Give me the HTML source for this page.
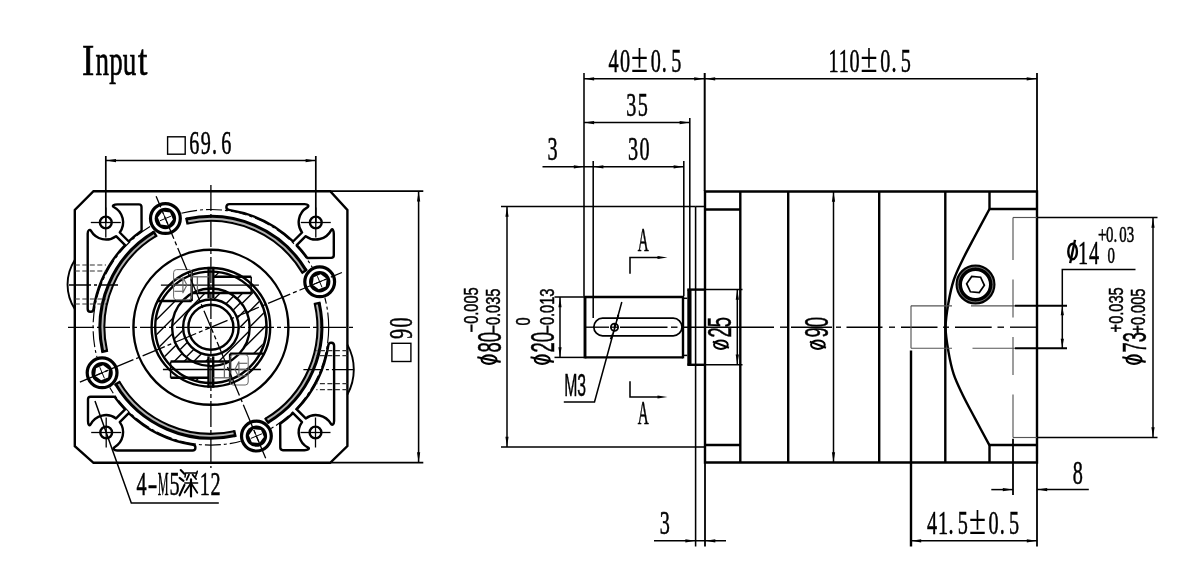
<!DOCTYPE html>
<html lang="en">
<head>
<meta charset="utf-8">
<title>Input flange drawing</title>
<style>
html,body{margin:0;padding:0;background:#fff;}
body{width:1200px;height:574px;overflow:hidden;font-family:"Liberation Serif",serif;}
svg{display:block;filter:grayscale(1);}
text{white-space:pre;}
</style>
</head>
<body>
<svg width="1200" height="574" viewBox="0 0 1200 574">
<rect x="0" y="0" width="1200" height="574" fill="#fff"/>
<path d="M705,191.5 H1037 V462.5 H705 Z" stroke="#000" stroke-width="2.4" fill="none" stroke-linejoin="miter" />
<line x1="740.3" y1="191.5" x2="740.3" y2="462.5" stroke="#000" stroke-width="2.4" stroke-linecap="butt"/>
<line x1="788.2" y1="191.5" x2="788.2" y2="462.5" stroke="#000" stroke-width="2.4" stroke-linecap="butt"/>
<line x1="879.2" y1="191.5" x2="879.2" y2="462.5" stroke="#000" stroke-width="2.4" stroke-linecap="butt"/>
<line x1="945.3" y1="191.5" x2="945.3" y2="462.5" stroke="#000" stroke-width="2.4" stroke-linecap="butt"/>
<line x1="705" y1="209.5" x2="740.3" y2="209.5" stroke="#000" stroke-width="2.4" stroke-linecap="butt"/>
<line x1="705" y1="445" x2="740.3" y2="445" stroke="#000" stroke-width="2.4" stroke-linecap="butt"/>
<path d="M989.5,191.5 V209 H1037" stroke="#000" stroke-width="2.4" fill="none" stroke-linejoin="miter" />
<path d="M989.5,462.5 V445 H1037" stroke="#000" stroke-width="2.4" fill="none" stroke-linejoin="miter" />
<path d="M989.5,209 C987.08,213.5 979.5,227.5 975,236 C970.5,244.5 966.04,252.67 962.5,260 C958.96,267.33 956.08,272.92 953.75,280 C951.42,287.08 949.86,294.63 948.5,302.5 C947.14,310.37 945.6,318.97 945.6,327.2 C945.6,335.43 947.14,344.03 948.5,351.9 C949.86,359.77 951.42,367.32 953.75,374.4 C956.08,381.48 958.96,387.07 962.5,394.4 C966.04,401.73 970.5,409.9 975,418.4 C979.5,426.9 987.08,440.9 989.5,445.4" stroke="#000" stroke-width="2.4" fill="none" stroke-linejoin="round" />
<line x1="695.6" y1="206.5" x2="695.6" y2="447" stroke="#000" stroke-width="1.55" stroke-linecap="butt"/>
<line x1="695.6" y1="206.5" x2="705" y2="206.5" stroke="#000" stroke-width="1.55" stroke-linecap="butt"/>
<line x1="695.6" y1="447" x2="705" y2="447" stroke="#000" stroke-width="1.55" stroke-linecap="butt"/>
<rect x="687.3" y="289.6" width="4.2" height="75.2" fill="#000"/>
<line x1="687.3" y1="289.6" x2="705" y2="289.6" stroke="#000" stroke-width="2.4" stroke-linecap="butt"/>
<line x1="687.3" y1="364.8" x2="705" y2="364.8" stroke="#000" stroke-width="2.4" stroke-linecap="butt"/>
<line x1="705" y1="289.6" x2="742.5" y2="289.6" stroke="#000" stroke-width="1.5" stroke-linecap="butt"/>
<line x1="705" y1="364.8" x2="742.5" y2="364.8" stroke="#000" stroke-width="1.5" stroke-linecap="butt"/>
<line x1="584.6" y1="297" x2="683" y2="297" stroke="#000" stroke-width="2.4" stroke-linecap="butt"/>
<line x1="584.6" y1="357.4" x2="683" y2="357.4" stroke="#000" stroke-width="2.4" stroke-linecap="butt"/>
<line x1="585" y1="296" x2="585" y2="358.4" stroke="#000" stroke-width="2.9" stroke-linecap="butt"/>
<line x1="683" y1="296" x2="683" y2="358.4" stroke="#000" stroke-width="2.4" stroke-linecap="butt"/>
<line x1="683" y1="298.3" x2="687.3" y2="298.3" stroke="#000" stroke-width="1.5" stroke-linecap="butt"/>
<line x1="683" y1="355.4" x2="687.3" y2="355.4" stroke="#000" stroke-width="1.5" stroke-linecap="butt"/>
<rect x="593.8" y="318.2" width="88.2" height="17.6" rx="8.8" ry="8.8" fill="none" stroke="#000" stroke-width="1.7"/>
<circle cx="614.5" cy="327.2" r="3.6" stroke="#000" stroke-width="1.8" fill="none"/>
<line x1="610.5" y1="327.2" x2="618.5" y2="327.2" stroke="#000" stroke-width="1.3" stroke-linecap="butt"/>
<line x1="614.5" y1="323.2" x2="614.5" y2="331.2" stroke="#000" stroke-width="1.3" stroke-linecap="butt"/>
<path d="M621.8,302 L594.5,402 H563.8" stroke="#000" stroke-width="1.5" fill="none" stroke-linejoin="miter" />
<polygon points="616.2,322.8 617.25,314.79 619.37,315.37" fill="#000"/>
<polygon points="612.9,331.6 611.85,339.61 609.73,339.03" fill="#000"/>
<line x1="585" y1="327.2" x2="609" y2="327.2" stroke="#000" stroke-width="1.35" stroke-linecap="butt"/>
<line x1="620" y1="327.2" x2="667.5" y2="327.2" stroke="#000" stroke-width="1.35" stroke-linecap="butt"/>
<line x1="671" y1="327.2" x2="677.5" y2="327.2" stroke="#000" stroke-width="1.35" stroke-linecap="butt"/>
<line x1="682.5" y1="327.2" x2="774" y2="327.2" stroke="#000" stroke-width="1.35" stroke-linecap="butt"/>
<line x1="780" y1="327.2" x2="788" y2="327.2" stroke="#000" stroke-width="1.35" stroke-linecap="butt"/>
<line x1="791" y1="327.2" x2="832" y2="327.2" stroke="#000" stroke-width="1.35" stroke-linecap="butt"/>
<line x1="836" y1="327.2" x2="841" y2="327.2" stroke="#000" stroke-width="1.35" stroke-linecap="butt"/>
<line x1="846.5" y1="327.2" x2="882.5" y2="327.2" stroke="#000" stroke-width="1.35" stroke-linecap="butt"/>
<line x1="889" y1="327.2" x2="895" y2="327.2" stroke="#000" stroke-width="1.35" stroke-linecap="butt"/>
<line x1="901" y1="327.2" x2="937.5" y2="327.2" stroke="#000" stroke-width="1.35" stroke-linecap="butt"/>
<line x1="943" y1="327.2" x2="949" y2="327.2" stroke="#000" stroke-width="1.35" stroke-linecap="butt"/>
<line x1="955" y1="327.2" x2="991.7" y2="327.2" stroke="#000" stroke-width="1.35" stroke-linecap="butt"/>
<line x1="997.5" y1="327.2" x2="1004" y2="327.2" stroke="#000" stroke-width="1.35" stroke-linecap="butt"/>
<line x1="1010" y1="327.2" x2="1037" y2="327.2" stroke="#000" stroke-width="1.35" stroke-linecap="butt"/>
<line x1="911" y1="305.8" x2="952" y2="305.8" stroke="#555" stroke-width="1.15" stroke-linecap="butt"/>
<line x1="971" y1="305.8" x2="1015" y2="305.8" stroke="#555" stroke-width="1.15" stroke-linecap="butt"/>
<line x1="911" y1="348.2" x2="952" y2="348.2" stroke="#555" stroke-width="1.15" stroke-linecap="butt"/>
<line x1="972.5" y1="348.2" x2="1015" y2="348.2" stroke="#555" stroke-width="1.15" stroke-linecap="butt"/>
<line x1="911" y1="305.8" x2="911" y2="348.2" stroke="#555" stroke-width="1.15" stroke-linecap="butt"/>
<line x1="1013" y1="217.5" x2="1037" y2="217.5" stroke="#555" stroke-width="1.15" stroke-linecap="butt"/>
<line x1="1013" y1="437.5" x2="1037" y2="437.5" stroke="#555" stroke-width="1.15" stroke-linecap="butt"/>
<line x1="1013" y1="217.5" x2="1013" y2="260" stroke="#555" stroke-width="1.15" stroke-linecap="butt"/>
<line x1="1013" y1="279.5" x2="1013" y2="317.5" stroke="#555" stroke-width="1.15" stroke-linecap="butt"/>
<line x1="1013" y1="337" x2="1013" y2="375" stroke="#555" stroke-width="1.15" stroke-linecap="butt"/>
<line x1="1013" y1="394.5" x2="1013" y2="437.5" stroke="#555" stroke-width="1.15" stroke-linecap="butt"/>
<circle cx="975.5" cy="284.5" r="16.75" stroke="#000" stroke-width="6.5" fill="none"/>
<circle cx="975.5" cy="284.5" r="17.45" stroke="#aaa" stroke-width="0.7" fill="none"/>
<polygon points="984.37,285.28 979.26,292.57 970.4,291.79 966.63,283.72 971.74,276.43 980.6,277.21" fill="none" stroke="#000" stroke-width="1.7"/>
<line x1="584" y1="73" x2="584" y2="296" stroke="#000" stroke-width="1.55" stroke-linecap="butt"/>
<line x1="704.7" y1="73" x2="704.7" y2="191" stroke="#000" stroke-width="2.0" stroke-linecap="butt"/>
<line x1="1037" y1="73" x2="1037" y2="191" stroke="#000" stroke-width="1.8" stroke-linecap="butt"/>
<line x1="584" y1="78.8" x2="1037" y2="78.8" stroke="#000" stroke-width="1.5" stroke-linecap="butt"/>
<polygon points="584.3,78.8 594.1,77.2 594.1,80.4" fill="#000"/>
<polygon points="704,78.8 694.2,80.4 694.2,77.2" fill="#000"/>
<polygon points="705.4,78.8 715.2,77.2 715.2,80.4" fill="#000"/>
<polygon points="1036.5,78.8 1026.7,80.4 1026.7,77.2" fill="#000"/>
<g font-family="'Liberation Serif', serif" font-size="33.7" font-weight="normal" fill="#000" stroke="#000" stroke-width="0.55" text-anchor="middle">
<text transform="translate(613.45 72.3) scale(0.6 1)">4</text>
<text transform="translate(624.95 72.3) scale(0.6 1)">0</text>
<text transform="translate(639.5 72.3) scale(0.92 1.27)" stroke-width="0.1">±</text>
<text transform="translate(655.75 72.3) scale(0.6 1)">0</text>
<text transform="translate(664.3 72.3) scale(0.6 1)">.</text>
<text transform="translate(676.25 72.3) scale(0.6 1)">5</text>
</g>
<g font-family="'Liberation Serif', serif" font-size="33.7" font-weight="normal" fill="#000" stroke="#000" stroke-width="0.55" text-anchor="middle">
<text transform="translate(833.5 72.3) scale(0.6 1)">1</text>
<text transform="translate(843.7 72.3) scale(0.6 1)">1</text>
<text transform="translate(854.55 72.3) scale(0.6 1)">0</text>
<text transform="translate(869.1 72.3) scale(0.92 1.27)" stroke-width="0.1">±</text>
<text transform="translate(885.35 72.3) scale(0.6 1)">0</text>
<text transform="translate(893.9 72.3) scale(0.6 1)">.</text>
<text transform="translate(905.85 72.3) scale(0.6 1)">5</text>
</g>
<line x1="689.8" y1="118" x2="689.8" y2="289" stroke="#000" stroke-width="1.55" stroke-linecap="butt"/>
<line x1="584" y1="122.6" x2="689.8" y2="122.6" stroke="#000" stroke-width="1.5" stroke-linecap="butt"/>
<polygon points="584.3,122.6 594.1,121 594.1,124.2" fill="#000"/>
<polygon points="689.4,122.6 679.6,124.2 679.6,121" fill="#000"/>
<g font-family="'Liberation Serif', serif" font-size="33.7" font-weight="normal" fill="#000" stroke="#000" stroke-width="0.55" text-anchor="middle">
<text transform="translate(631.35 116.2) scale(0.6 1)">3</text>
<text transform="translate(642.85 116.2) scale(0.6 1)">5</text>
</g>
<line x1="593.2" y1="161" x2="593.2" y2="318" stroke="#000" stroke-width="1.55" stroke-linecap="butt"/>
<line x1="683.8" y1="161" x2="683.8" y2="296" stroke="#000" stroke-width="1.55" stroke-linecap="butt"/>
<line x1="542.5" y1="166.8" x2="683.8" y2="166.8" stroke="#000" stroke-width="1.5" stroke-linecap="butt"/>
<polygon points="583.6,166.8 573.8,168.4 573.8,165.2" fill="#000"/>
<polygon points="593.6,166.8 603.4,165.2 603.4,168.4" fill="#000"/>
<polygon points="683.4,166.8 673.6,168.4 673.6,165.2" fill="#000"/>
<g font-family="'Liberation Serif', serif" font-size="33.7" font-weight="normal" fill="#000" stroke="#000" stroke-width="0.55" text-anchor="middle">
<text transform="translate(633.05 160.2) scale(0.6 1)">3</text>
<text transform="translate(644.55 160.2) scale(0.6 1)">0</text>
</g>
<g font-family="'Liberation Serif', serif" font-size="33.7" font-weight="normal" fill="#000" stroke="#000" stroke-width="0.55" text-anchor="middle">
<text transform="translate(552.65 160.2) scale(0.6 1)">3</text>
</g>
<line x1="501" y1="206.5" x2="695.6" y2="206.5" stroke="#000" stroke-width="1.5" stroke-linecap="butt"/>
<line x1="501" y1="447" x2="695.6" y2="447" stroke="#000" stroke-width="1.5" stroke-linecap="butt"/>
<line x1="507" y1="206.5" x2="507" y2="447" stroke="#000" stroke-width="1.5" stroke-linecap="butt"/>
<polygon points="507,206.9 508.6,216.7 505.4,216.7" fill="#000"/>
<polygon points="507,446.6 505.4,436.8 508.6,436.8" fill="#000"/>
<line x1="554.5" y1="297" x2="584" y2="297" stroke="#000" stroke-width="1.5" stroke-linecap="butt"/>
<line x1="554.5" y1="357.4" x2="584" y2="357.4" stroke="#000" stroke-width="1.5" stroke-linecap="butt"/>
<line x1="560" y1="297" x2="560" y2="357.4" stroke="#000" stroke-width="1.5" stroke-linecap="butt"/>
<polygon points="560,297.4 561.6,307.2 558.4,307.2" fill="#000"/>
<polygon points="560,357 558.4,347.2 561.6,347.2" fill="#000"/>
<line x1="737.3" y1="289.6" x2="737.3" y2="364.8" stroke="#000" stroke-width="1.5" stroke-linecap="butt"/>
<polygon points="737.3,290 738.9,299.8 735.7,299.8" fill="#000"/>
<polygon points="737.3,364.4 735.7,354.6 738.9,354.6" fill="#000"/>
<line x1="833.5" y1="191.5" x2="833.5" y2="462.5" stroke="#000" stroke-width="1.5" stroke-linecap="butt"/>
<polygon points="833.5,192 835.1,201.8 831.9,201.8" fill="#000"/>
<polygon points="833.5,462 831.9,452.2 835.1,452.2" fill="#000"/>
<line x1="695.6" y1="447" x2="695.6" y2="546.5" stroke="#000" stroke-width="1.55" stroke-linecap="butt"/>
<line x1="705" y1="462.5" x2="705" y2="546.5" stroke="#000" stroke-width="1.8" stroke-linecap="butt"/>
<line x1="654" y1="540.8" x2="726" y2="540.8" stroke="#000" stroke-width="1.5" stroke-linecap="butt"/>
<polygon points="695.2,540.8 685.4,542.4 685.4,539.2" fill="#000"/>
<polygon points="705.5,540.8 715.3,539.2 715.3,542.4" fill="#000"/>
<g font-family="'Liberation Serif', serif" font-size="33.7" font-weight="normal" fill="#000" stroke="#000" stroke-width="0.55" text-anchor="middle">
<text transform="translate(664.75 533.6) scale(0.6 1)">3</text>
</g>
<line x1="1037" y1="217.5" x2="1157.5" y2="217.5" stroke="#000" stroke-width="1.5" stroke-linecap="butt"/>
<line x1="1037" y1="437.5" x2="1157.5" y2="437.5" stroke="#000" stroke-width="1.5" stroke-linecap="butt"/>
<line x1="1153" y1="217.5" x2="1153" y2="437.5" stroke="#000" stroke-width="1.5" stroke-linecap="butt"/>
<polygon points="1153,218 1154.6,227.8 1151.4,227.8" fill="#000"/>
<polygon points="1153,437 1151.4,427.2 1154.6,427.2" fill="#000"/>
<line x1="1015" y1="305.8" x2="1067" y2="305.8" stroke="#000" stroke-width="1.9" stroke-linecap="butt"/>
<line x1="1015" y1="348.2" x2="1067" y2="348.2" stroke="#000" stroke-width="1.9" stroke-linecap="butt"/>
<path d="M1135.5,269.5 H1062.3 V348.2" stroke="#000" stroke-width="1.5" fill="none" stroke-linejoin="miter" />
<polygon points="1062.3,306.2 1063.9,315.2 1060.7,315.2" fill="#000"/>
<polygon points="1062.3,347.8 1060.7,338.8 1063.9,338.8" fill="#000"/>
<line x1="1013" y1="438.8" x2="1013" y2="495" stroke="#000" stroke-width="1.8" stroke-linecap="butt"/>
<line x1="1037" y1="462.5" x2="1037" y2="546.5" stroke="#000" stroke-width="1.8" stroke-linecap="butt"/>
<line x1="991.3" y1="489.6" x2="1013" y2="489.6" stroke="#000" stroke-width="1.5" stroke-linecap="butt"/>
<line x1="1037" y1="489.6" x2="1088.8" y2="489.6" stroke="#000" stroke-width="1.5" stroke-linecap="butt"/>
<polygon points="1012.6,489.6 1002.8,491.2 1002.8,488" fill="#000"/>
<polygon points="1037.4,489.6 1047.2,488 1047.2,491.2" fill="#000"/>
<g font-family="'Liberation Serif', serif" font-size="33.7" font-weight="normal" fill="#000" stroke="#000" stroke-width="0.55" text-anchor="middle">
<text transform="translate(1077.75 483.6) scale(0.6 1)">8</text>
</g>
<line x1="911" y1="350.5" x2="911" y2="546.5" stroke="#000" stroke-width="2.4" stroke-linecap="butt"/>
<line x1="911" y1="540.8" x2="1037" y2="540.8" stroke="#000" stroke-width="1.5" stroke-linecap="butt"/>
<polygon points="911.4,540.8 921.2,539.2 921.2,542.4" fill="#000"/>
<polygon points="1036.6,540.8 1026.8,542.4 1026.8,539.2" fill="#000"/>
<g font-family="'Liberation Serif', serif" font-size="33.7" font-weight="normal" fill="#000" stroke="#000" stroke-width="0.55" text-anchor="middle">
<text transform="translate(932.15 533.6) scale(0.6 1)">4</text>
<text transform="translate(943 533.6) scale(0.6 1)">1</text>
<text transform="translate(950.9 533.6) scale(0.6 1)">.</text>
<text transform="translate(962.85 533.6) scale(0.6 1)">5</text>
<text transform="translate(977.4 533.6) scale(0.92 1.27)" stroke-width="0.1">±</text>
<text transform="translate(993.65 533.6) scale(0.6 1)">0</text>
<text transform="translate(1002.2 533.6) scale(0.6 1)">.</text>
<text transform="translate(1014.15 533.6) scale(0.6 1)">5</text>
</g>
<path d="M630,273.8 V257.5 H660" stroke="#000" stroke-width="1.55" fill="none" stroke-linejoin="miter" />
<polygon points="667.5,257.5 657.5,258.9 657.5,256.1" fill="#000"/>
<path d="M630,381.2 V397 H660" stroke="#000" stroke-width="1.55" fill="none" stroke-linejoin="miter" />
<polygon points="667.5,397 657.5,398.4 657.5,395.6" fill="#000"/>
<g font-family="'Liberation Serif', serif" font-size="33.7" font-weight="normal" fill="#000" stroke="#000" stroke-width="0.55" text-anchor="middle">
<text transform="translate(643.35 251.2) scale(0.45 1)">A</text>
</g>
<g font-family="'Liberation Serif', serif" font-size="33.7" font-weight="normal" fill="#000" stroke="#000" stroke-width="0.55" text-anchor="middle">
<text transform="translate(643.35 423.8) scale(0.45 1)">A</text>
</g>
<text transform="translate(564.2 395.5) rotate(0) scale(0.5 1)" font-family="'Liberation Sans', sans-serif" font-size="31.5" font-weight="normal" fill="#000" stroke="#000" stroke-width="0.5" text-anchor="start">M3</text>
<g transform="translate(720.9 344.7) rotate(-90)" fill="none" stroke="#000" stroke-width="2.0">
<ellipse cx="0" cy="0" rx="4.25" ry="6.85"/>
<line x1="-3.06" y1="8.08" x2="3.06" y2="-8.08"/>
</g>
<text transform="translate(731.3 337.6) rotate(-90) scale(0.55 1)" font-family="'Liberation Sans', sans-serif" font-size="33.5" font-weight="normal" fill="#000" stroke="#000" stroke-width="0.5" text-anchor="start">25</text>
<g transform="translate(817.9 344.7) rotate(-90)" fill="none" stroke="#000" stroke-width="2.0">
<ellipse cx="0" cy="0" rx="4.25" ry="6.85"/>
<line x1="-3.06" y1="8.08" x2="3.06" y2="-8.08"/>
</g>
<text transform="translate(828.3 337.6) rotate(-90) scale(0.55 1)" font-family="'Liberation Sans', sans-serif" font-size="33.5" font-weight="normal" fill="#000" stroke="#000" stroke-width="0.5" text-anchor="start">90</text>
<g transform="translate(489 359.6) rotate(-90)" fill="none" stroke="#000" stroke-width="2.1">
<ellipse cx="0" cy="0" rx="4.25" ry="7.5"/>
<line x1="-2.29" y1="11.7" x2="2.29" y2="-11.7"/>
</g>
<text transform="translate(500.6 352.6) rotate(-90) scale(0.55 1)" font-family="'Liberation Sans', sans-serif" font-size="33.5" font-weight="normal" fill="#000" stroke="#000" stroke-width="0.5" text-anchor="start">80</text>
<text transform="translate(500.3 333.6) rotate(-90) scale(0.75 1)" font-family="'Liberation Sans', sans-serif" font-size="19.5" font-weight="normal" fill="#000" stroke="#000" stroke-width="0.5" text-anchor="start">−0.035</text>
<text transform="translate(477.8 332.4) rotate(-90) scale(0.75 1)" font-family="'Liberation Sans', sans-serif" font-size="19.5" font-weight="normal" fill="#000" stroke="#000" stroke-width="0.5" text-anchor="start">−0.005</text>
<g transform="translate(542.2 359.6) rotate(-90)" fill="none" stroke="#000" stroke-width="2.1">
<ellipse cx="0" cy="0" rx="4.25" ry="7.5"/>
<line x1="-2.29" y1="11.7" x2="2.29" y2="-11.7"/>
</g>
<text transform="translate(553.8 352.6) rotate(-90) scale(0.55 1)" font-family="'Liberation Sans', sans-serif" font-size="33.5" font-weight="normal" fill="#000" stroke="#000" stroke-width="0.5" text-anchor="start">20</text>
<text transform="translate(553.5 333.6) rotate(-90) scale(0.75 1)" font-family="'Liberation Sans', sans-serif" font-size="19.5" font-weight="normal" fill="#000" stroke="#000" stroke-width="0.5" text-anchor="start">−0.013</text>
<text transform="translate(529.8 325.4) rotate(-90) scale(0.75 1)" font-family="'Liberation Sans', sans-serif" font-size="19.5" font-weight="normal" fill="#000" stroke="#000" stroke-width="0.5" text-anchor="start">0</text>
<g transform="translate(1134 359.6) rotate(-90)" fill="none" stroke="#000" stroke-width="2.1">
<ellipse cx="0" cy="0" rx="4.25" ry="7.5"/>
<line x1="-2.29" y1="11.7" x2="2.29" y2="-11.7"/>
</g>
<text transform="translate(1145.6 352.6) rotate(-90) scale(0.55 1)" font-family="'Liberation Sans', sans-serif" font-size="33.5" font-weight="normal" fill="#000" stroke="#000" stroke-width="0.5" text-anchor="start">73</text>
<text transform="translate(1145.3 333.6) rotate(-90) scale(0.75 1)" font-family="'Liberation Sans', sans-serif" font-size="19.5" font-weight="normal" fill="#000" stroke="#000" stroke-width="0.5" text-anchor="start">+0.005</text>
<text transform="translate(1122.8 332.4) rotate(-90) scale(0.75 1)" font-family="'Liberation Sans', sans-serif" font-size="19.5" font-weight="normal" fill="#000" stroke="#000" stroke-width="0.5" text-anchor="start">+0.035</text>
<g transform="translate(1072.6 251.5) rotate(0)" fill="none" stroke="#000" stroke-width="2.4">
<ellipse cx="0" cy="0" rx="4.3" ry="7.75"/>
<line x1="-2.41" y1="11.62" x2="2.41" y2="-11.62"/>
</g>
<g font-family="'Liberation Serif', serif" font-size="33.7" font-weight="normal" fill="#000" stroke="#000" stroke-width="0.55" text-anchor="middle">
<text transform="translate(1083.1 263.6) scale(0.6 1)">1</text>
<text transform="translate(1093.95 263.6) scale(0.6 1)">4</text>
</g>
<g font-family="'Liberation Serif', serif" font-size="22.5" font-weight="normal" fill="#000" stroke="#000" stroke-width="0.55" text-anchor="middle">
<text transform="translate(1102.25 241.8) scale(0.68 1)">+</text>
<text transform="translate(1109.65 241.8) scale(0.66 1)">0</text>
<text transform="translate(1115.23 241.8) scale(0.66 1)">.</text>
<text transform="translate(1123.02 241.8) scale(0.66 1)">0</text>
<text transform="translate(1130.52 241.8) scale(0.66 1)">3</text>
</g>
<g font-family="'Liberation Serif', serif" font-size="22.5" font-weight="normal" fill="#000" stroke="#000" stroke-width="0.55" text-anchor="middle">
<text transform="translate(1111.25 263) scale(0.66 1)">0</text>
</g>
<path d="M93.5,191.2 H330.2 L347.4,209.9 V446.1 L330.2,462.8 H93.5 L74.8,446.1 V209.9 Z" stroke="#000" stroke-width="2.4" fill="none" stroke-linejoin="miter" />
<circle cx="210.9" cy="327.3" r="77.5" stroke="#000" stroke-width="2.4" fill="none"/>
<circle cx="210.9" cy="327.3" r="59.3" stroke="#000" stroke-width="2.4" fill="none"/>
<circle cx="210.9" cy="327.3" r="55.7" stroke="#000" stroke-width="2.4" fill="none"/>
<circle cx="210.9" cy="327.3" r="38.8" stroke="#000" stroke-width="2.4" fill="none"/>
<circle cx="210.9" cy="327.3" r="27.8" stroke="#000" stroke-width="2.4" fill="none"/>
<circle cx="210.9" cy="327.3" r="22.5" stroke="#000" stroke-width="2.4" fill="none"/>
<circle cx="210.9" cy="327.3" r="117.8" stroke="#000" stroke-width="1.15" fill="none" stroke-dasharray="16 3 3 3"/>
<path d="M234.74,433.15 A108.5,108.5 0 0 1 117.79,383.01" stroke="#b4b4b4" stroke-width="2.2" fill="none" stroke-linejoin="round" />
<path d="M235.27,435.49 A110.9,110.9 0 0 1 115.74,384.24" stroke="#000" stroke-width="3.1" fill="none" stroke-linejoin="round" />
<path d="M234.3,431.2 A106.5,106.5 0 0 1 119.51,381.98" stroke="#000" stroke-width="2.1" fill="none" stroke-linejoin="round" />
<line x1="234.08" y1="430.22" x2="235.6" y2="436.95" stroke="#000" stroke-width="2.4" stroke-linecap="butt"/>
<line x1="120.37" y1="381.47" x2="114.45" y2="385.01" stroke="#000" stroke-width="2.4" stroke-linecap="butt"/>
<path d="M105.05,351.14 A108.5,108.5 0 0 1 155.19,234.19" stroke="#b4b4b4" stroke-width="2.2" fill="none" stroke-linejoin="round" />
<path d="M102.71,351.67 A110.9,110.9 0 0 1 153.96,232.14" stroke="#000" stroke-width="3.1" fill="none" stroke-linejoin="round" />
<path d="M107,350.7 A106.5,106.5 0 0 1 156.22,235.91" stroke="#000" stroke-width="2.1" fill="none" stroke-linejoin="round" />
<line x1="107.98" y1="350.48" x2="101.25" y2="352" stroke="#000" stroke-width="2.4" stroke-linecap="butt"/>
<line x1="156.73" y1="236.77" x2="153.19" y2="230.85" stroke="#000" stroke-width="2.4" stroke-linecap="butt"/>
<path d="M187.06,221.45 A108.5,108.5 0 0 1 304.01,271.59" stroke="#b4b4b4" stroke-width="2.2" fill="none" stroke-linejoin="round" />
<path d="M186.53,219.11 A110.9,110.9 0 0 1 306.06,270.36" stroke="#000" stroke-width="3.1" fill="none" stroke-linejoin="round" />
<path d="M187.5,223.4 A106.5,106.5 0 0 1 302.29,272.62" stroke="#000" stroke-width="2.1" fill="none" stroke-linejoin="round" />
<line x1="187.72" y1="224.38" x2="186.2" y2="217.65" stroke="#000" stroke-width="2.4" stroke-linecap="butt"/>
<line x1="301.43" y1="273.13" x2="307.35" y2="269.59" stroke="#000" stroke-width="2.4" stroke-linecap="butt"/>
<path d="M316.75,303.46 A108.5,108.5 0 0 1 266.61,420.41" stroke="#b4b4b4" stroke-width="2.2" fill="none" stroke-linejoin="round" />
<path d="M319.09,302.93 A110.9,110.9 0 0 1 267.84,422.46" stroke="#000" stroke-width="3.1" fill="none" stroke-linejoin="round" />
<path d="M314.8,303.9 A106.5,106.5 0 0 1 265.58,418.69" stroke="#000" stroke-width="2.1" fill="none" stroke-linejoin="round" />
<line x1="313.82" y1="304.12" x2="320.55" y2="302.6" stroke="#000" stroke-width="2.4" stroke-linecap="butt"/>
<line x1="265.07" y1="417.83" x2="268.61" y2="423.75" stroke="#000" stroke-width="2.4" stroke-linecap="butt"/>
<circle cx="165.4" cy="218.5" r="16.6" stroke="#000" stroke-width="0.0" fill="#fff"/>
<circle cx="165.4" cy="218.5" r="14.9" stroke="#000" stroke-width="3.2" fill="none"/>
<circle cx="165.4" cy="218.5" r="10.7" stroke="#000" stroke-width="0.0" fill="#000"/>
<polygon points="162.47,211.49 170.01,212.45 172.94,219.47 168.33,225.51 160.79,224.55 157.86,217.53" fill="#fff"/>
<line x1="167.71" y1="224.04" x2="163.09" y2="212.96" stroke="#000" stroke-width="1.0" stroke-linecap="butt"/>
<line x1="159.86" y1="220.81" x2="170.94" y2="216.19" stroke="#000" stroke-width="1.0" stroke-linecap="butt"/>
<circle cx="319.7" cy="281.8" r="16.6" stroke="#000" stroke-width="0.0" fill="#fff"/>
<circle cx="319.7" cy="281.8" r="14.9" stroke="#000" stroke-width="3.2" fill="none"/>
<circle cx="319.7" cy="281.8" r="10.7" stroke="#000" stroke-width="0.0" fill="#000"/>
<polygon points="326.71,278.87 325.75,286.41 318.73,289.34 312.69,284.73 313.65,277.19 320.67,274.26" fill="#fff"/>
<line x1="314.16" y1="284.11" x2="325.24" y2="279.49" stroke="#000" stroke-width="1.0" stroke-linecap="butt"/>
<line x1="317.39" y1="276.26" x2="322.01" y2="287.34" stroke="#000" stroke-width="1.0" stroke-linecap="butt"/>
<circle cx="256.4" cy="436.1" r="16.6" stroke="#000" stroke-width="0.0" fill="#fff"/>
<circle cx="256.4" cy="436.1" r="14.9" stroke="#000" stroke-width="3.2" fill="none"/>
<circle cx="256.4" cy="436.1" r="10.7" stroke="#000" stroke-width="0.0" fill="#000"/>
<polygon points="259.33,443.11 251.79,442.15 248.86,435.13 253.47,429.09 261.01,430.05 263.94,437.07" fill="#fff"/>
<line x1="254.09" y1="430.56" x2="258.71" y2="441.64" stroke="#000" stroke-width="1.0" stroke-linecap="butt"/>
<line x1="261.94" y1="433.79" x2="250.86" y2="438.41" stroke="#000" stroke-width="1.0" stroke-linecap="butt"/>
<circle cx="102.1" cy="372.8" r="16.6" stroke="#000" stroke-width="0.0" fill="#fff"/>
<circle cx="102.1" cy="372.8" r="14.9" stroke="#000" stroke-width="3.2" fill="none"/>
<circle cx="102.1" cy="372.8" r="10.7" stroke="#000" stroke-width="0.0" fill="#000"/>
<polygon points="95.09,375.73 96.05,368.19 103.07,365.26 109.11,369.87 108.15,377.41 101.13,380.34" fill="#fff"/>
<line x1="107.64" y1="370.49" x2="96.56" y2="375.11" stroke="#000" stroke-width="1.0" stroke-linecap="butt"/>
<line x1="104.41" y1="378.34" x2="99.79" y2="367.26" stroke="#000" stroke-width="1.0" stroke-linecap="butt"/>
<circle cx="105.8" cy="222.5" r="5.9" stroke="#000" stroke-width="2.4" fill="none"/>
<line x1="90.8" y1="222.5" x2="120.8" y2="222.5" stroke="#000" stroke-width="1.3" stroke-linecap="butt"/>
<line x1="105.8" y1="207.5" x2="105.8" y2="237.5" stroke="#000" stroke-width="1.3" stroke-linecap="butt"/>
<circle cx="315.8" cy="222.5" r="5.9" stroke="#000" stroke-width="2.4" fill="none"/>
<line x1="300.8" y1="222.5" x2="330.8" y2="222.5" stroke="#000" stroke-width="1.3" stroke-linecap="butt"/>
<line x1="315.8" y1="207.5" x2="315.8" y2="237.5" stroke="#000" stroke-width="1.3" stroke-linecap="butt"/>
<circle cx="106.2" cy="432.5" r="5.9" stroke="#000" stroke-width="2.4" fill="none"/>
<line x1="91.2" y1="432.5" x2="121.2" y2="432.5" stroke="#000" stroke-width="1.3" stroke-linecap="butt"/>
<line x1="106.2" y1="417.5" x2="106.2" y2="447.5" stroke="#000" stroke-width="1.3" stroke-linecap="butt"/>
<circle cx="315.5" cy="432.5" r="5.9" stroke="#000" stroke-width="2.4" fill="none"/>
<line x1="300.5" y1="432.5" x2="330.5" y2="432.5" stroke="#000" stroke-width="1.3" stroke-linecap="butt"/>
<line x1="315.5" y1="417.5" x2="315.5" y2="447.5" stroke="#000" stroke-width="1.3" stroke-linecap="butt"/>
<path d="M117.3,204.4 L138.9,204.4 Q141.5,204.4 141.5,207 L141.6,230.81 A118.8,118.8 0 0 0 128.75,241.48 L119.76,232.48 A17.2,17.2 0 0 0 113.71,206.97 C111.57,205.89 113.9,204.4 117.3,204.4 Z" stroke="#000" stroke-width="2.4" fill="none" stroke-linejoin="round" />
<path d="M116.08,236.16 A17.2,17.2 0 0 1 91,230.9 C89.8,228.82 87.7,230.1 87.7,233.5 L87.7,308.89 A2.9,2.9 0 0 0 93.47,309.33 A118.8,118.8 0 0 1 125.08,245.15 Z" stroke="#000" stroke-width="2.4" fill="none" stroke-linejoin="round" />
<path d="M333.8,233.7 L333.8,255.3 Q333.8,257.9 331.2,257.9 L307.39,258 A118.8,118.8 0 0 0 296.72,245.15 L305.72,236.16 A17.2,17.2 0 0 0 331.23,230.11 C332.31,227.97 333.8,230.3 333.8,233.7 Z" stroke="#000" stroke-width="2.4" fill="none" stroke-linejoin="round" />
<path d="M302.04,232.48 A17.2,17.2 0 0 1 307.3,207.4 C309.38,206.2 308.1,204.1 304.7,204.1 L229.31,204.1 A2.9,2.9 0 0 0 228.87,209.87 A118.8,118.8 0 0 1 293.05,241.48 Z" stroke="#000" stroke-width="2.4" fill="none" stroke-linejoin="round" />
<path d="M304.5,450.2 L282.9,450.2 Q280.3,450.2 280.3,447.6 L280.2,423.79 A118.8,118.8 0 0 0 293.05,413.12 L302.04,422.12 A17.2,17.2 0 0 0 308.09,447.63 C310.23,448.71 307.9,450.2 304.5,450.2 Z" stroke="#000" stroke-width="2.4" fill="none" stroke-linejoin="round" />
<path d="M305.72,418.44 A17.2,17.2 0 0 1 330.8,423.7 C332,425.78 334.1,424.5 334.1,421.1 L334.1,345.71 A2.9,2.9 0 0 0 328.33,345.27 A118.8,118.8 0 0 1 296.72,409.45 Z" stroke="#000" stroke-width="2.4" fill="none" stroke-linejoin="round" />
<path d="M88,420.9 L88,399.3 Q88,396.7 90.6,396.7 L114.41,396.6 A118.8,118.8 0 0 0 125.08,409.45 L116.08,418.44 A17.2,17.2 0 0 0 90.57,424.49 C89.49,426.63 88,424.3 88,420.9 Z" stroke="#000" stroke-width="2.4" fill="none" stroke-linejoin="round" />
<path d="M119.76,422.12 A17.2,17.2 0 0 1 114.5,447.2 C112.42,448.4 113.7,450.5 117.1,450.5 L192.49,450.5 A2.9,2.9 0 0 0 192.93,444.73 A118.8,118.8 0 0 1 128.75,413.12 Z" stroke="#000" stroke-width="2.4" fill="none" stroke-linejoin="round" />
<path d="M74.8,260 A45,45 0 0 0 74.8,309" stroke="#000" stroke-width="1.9" fill="none" stroke-linejoin="round" />
<path d="M347.4,344.6 A52,52 0 0 1 347.4,394.6" stroke="#000" stroke-width="1.9" fill="none" stroke-linejoin="round" />
<line x1="69" y1="285" x2="118" y2="285" stroke="#000" stroke-width="1.3" stroke-dasharray="22 3 3 3" stroke-linecap="butt"/>
<line x1="353.9" y1="369.6" x2="303.4" y2="369.6" stroke="#000" stroke-width="1.3" stroke-dasharray="22 3 3 3" stroke-linecap="butt"/>
<line x1="74.8" y1="265" x2="106" y2="265" stroke="#333" stroke-width="1.15" stroke-dasharray="5 2.5" stroke-linecap="butt"/>
<line x1="347.4" y1="389.6" x2="316.4" y2="389.6" stroke="#333" stroke-width="1.15" stroke-dasharray="5 2.5" stroke-linecap="butt"/>
<line x1="74.8" y1="271" x2="106" y2="271" stroke="#333" stroke-width="1.15" stroke-dasharray="5 2.5" stroke-linecap="butt"/>
<line x1="347.4" y1="383.6" x2="316.4" y2="383.6" stroke="#333" stroke-width="1.15" stroke-dasharray="5 2.5" stroke-linecap="butt"/>
<line x1="74.8" y1="299" x2="106" y2="299" stroke="#333" stroke-width="1.15" stroke-dasharray="5 2.5" stroke-linecap="butt"/>
<line x1="347.4" y1="355.6" x2="316.4" y2="355.6" stroke="#333" stroke-width="1.15" stroke-dasharray="5 2.5" stroke-linecap="butt"/>
<line x1="74.8" y1="304" x2="106" y2="304" stroke="#333" stroke-width="1.15" stroke-dasharray="5 2.5" stroke-linecap="butt"/>
<line x1="347.4" y1="350.6" x2="316.4" y2="350.6" stroke="#333" stroke-width="1.15" stroke-dasharray="5 2.5" stroke-linecap="butt"/>
<defs>
<mask id="hm1" maskUnits="userSpaceOnUse" x="100" y="220" width="220" height="220">
<circle cx="210.9" cy="327.3" r="54.8" fill="#fff"/>
<circle cx="210.9" cy="327.3" r="39.6" fill="#000"/>
<rect x="148.9" y="265.3" width="42.8" height="35.7" fill="#000"/>
<rect x="191.7" y="265.3" width="16.9" height="27.7" fill="#000"/>
<rect x="208.6" y="265.3" width="4.7" height="33" fill="#000"/>
<rect x="213.3" y="276.8" width="37.9" height="16.2" fill="#000"/>
<rect x="230.1" y="353.6" width="42.8" height="35.7" fill="#000"/>
<rect x="213.2" y="361.6" width="16.9" height="27.7" fill="#000"/>
<rect x="208.5" y="356.3" width="4.7" height="33" fill="#000"/>
<rect x="170.6" y="361.6" width="37.9" height="16.2" fill="#000"/>
</mask>
<mask id="hm2" maskUnits="userSpaceOnUse" x="100" y="220" width="220" height="220">
<circle cx="210.9" cy="327.3" r="38.0" fill="#fff"/>
<circle cx="210.9" cy="327.3" r="28.6" fill="#000"/>
<rect x="148.9" y="265.3" width="42.8" height="35.7" fill="#000"/>
<rect x="191.7" y="265.3" width="16.9" height="27.7" fill="#000"/>
<rect x="208.6" y="265.3" width="4.7" height="33" fill="#000"/>
<rect x="213.3" y="276.8" width="37.9" height="16.2" fill="#000"/>
<rect x="230.1" y="353.6" width="42.8" height="35.7" fill="#000"/>
<rect x="213.2" y="361.6" width="16.9" height="27.7" fill="#000"/>
<rect x="208.5" y="356.3" width="4.7" height="33" fill="#000"/>
<rect x="170.6" y="361.6" width="37.9" height="16.2" fill="#000"/>
</mask>
</defs>
<g mask="url(#hm1)">
<line x1="94.9" y1="351.3" x2="234.9" y2="211.3" stroke="#000" stroke-width="1.35" stroke-linecap="butt"/>
<line x1="102.4" y1="358.8" x2="242.4" y2="218.8" stroke="#000" stroke-width="1.35" stroke-linecap="butt"/>
<line x1="109.9" y1="366.3" x2="249.9" y2="226.3" stroke="#000" stroke-width="1.35" stroke-linecap="butt"/>
<line x1="117.4" y1="373.8" x2="257.4" y2="233.8" stroke="#000" stroke-width="1.35" stroke-linecap="butt"/>
<line x1="124.9" y1="381.3" x2="264.9" y2="241.3" stroke="#000" stroke-width="1.35" stroke-linecap="butt"/>
<line x1="132.4" y1="388.8" x2="272.4" y2="248.8" stroke="#000" stroke-width="1.35" stroke-linecap="butt"/>
<line x1="139.65" y1="396.05" x2="279.65" y2="256.05" stroke="#000" stroke-width="1.35" stroke-linecap="butt"/>
<line x1="144.55" y1="400.95" x2="284.55" y2="260.95" stroke="#000" stroke-width="1.35" stroke-linecap="butt"/>
<line x1="152.2" y1="408.6" x2="292.2" y2="268.6" stroke="#000" stroke-width="1.35" stroke-linecap="butt"/>
<line x1="160.15" y1="416.55" x2="300.15" y2="276.55" stroke="#000" stroke-width="1.35" stroke-linecap="butt"/>
<line x1="167.65" y1="424.05" x2="307.65" y2="284.05" stroke="#000" stroke-width="1.35" stroke-linecap="butt"/>
<line x1="175.4" y1="431.8" x2="315.4" y2="291.8" stroke="#000" stroke-width="1.35" stroke-linecap="butt"/>
<line x1="182.9" y1="439.3" x2="322.9" y2="299.3" stroke="#000" stroke-width="1.35" stroke-linecap="butt"/>
</g>
<g mask="url(#hm2)">
<line x1="113.4" y1="369.8" x2="253.4" y2="229.8" stroke="#000" stroke-width="1.35" stroke-linecap="butt"/>
<line x1="120.9" y1="377.3" x2="260.9" y2="237.3" stroke="#000" stroke-width="1.35" stroke-linecap="butt"/>
<line x1="128.4" y1="384.8" x2="268.4" y2="244.8" stroke="#000" stroke-width="1.35" stroke-linecap="butt"/>
<line x1="136.65" y1="393.05" x2="276.65" y2="253.05" stroke="#000" stroke-width="1.35" stroke-linecap="butt"/>
<line x1="143.4" y1="399.8" x2="283.4" y2="259.8" stroke="#000" stroke-width="1.35" stroke-linecap="butt"/>
<line x1="149.4" y1="405.8" x2="289.4" y2="265.8" stroke="#000" stroke-width="1.35" stroke-linecap="butt"/>
<line x1="155.4" y1="411.8" x2="295.4" y2="271.8" stroke="#000" stroke-width="1.35" stroke-linecap="butt"/>
<line x1="161.9" y1="418.3" x2="301.9" y2="278.3" stroke="#000" stroke-width="1.35" stroke-linecap="butt"/>
<line x1="168.4" y1="424.8" x2="308.4" y2="284.8" stroke="#000" stroke-width="1.35" stroke-linecap="butt"/>
</g>
<line x1="160.9" y1="285.1" x2="258.9" y2="285.1" stroke="#000" stroke-width="1.3" stroke-linecap="butt"/>
<line x1="157.9" y1="301" x2="191.7" y2="301" stroke="#000" stroke-width="2.4" stroke-linecap="butt"/>
<line x1="191.7" y1="271.3" x2="191.7" y2="301" stroke="#000" stroke-width="2.4" stroke-linecap="butt"/>
<line x1="213.3" y1="276.8" x2="251.2" y2="276.8" stroke="#000" stroke-width="2.5" stroke-linecap="butt"/>
<line x1="191.7" y1="293" x2="251.2" y2="293" stroke="#000" stroke-width="2.5" stroke-linecap="butt"/>
<line x1="251.2" y1="276.8" x2="251.2" y2="293" stroke="#000" stroke-width="1.5" stroke-linecap="butt"/>
<line x1="208.6" y1="266.8" x2="208.6" y2="298.3" stroke="#000" stroke-width="2.4" stroke-linecap="butt"/>
<line x1="213.3" y1="266.8" x2="213.3" y2="298.3" stroke="#000" stroke-width="2.4" stroke-linecap="butt"/>
<rect x="173.6" y="269.6" width="18.1" height="30.3" rx="3" fill="none" stroke="#666" stroke-width="1"/>
<line x1="174.4" y1="278.8" x2="182.9" y2="278.8" stroke="#666" stroke-width="1.15" stroke-linecap="butt"/>
<line x1="174.4" y1="285.1" x2="182.9" y2="285.1" stroke="#666" stroke-width="1.15" stroke-linecap="butt"/>
<line x1="174.4" y1="291.3" x2="182.9" y2="291.3" stroke="#666" stroke-width="1.15" stroke-linecap="butt"/>
<path d="M182.9,277.3 L186.9,285.1 L182.9,292.8 Z" stroke="#666" stroke-width="1.15" fill="none" stroke-linejoin="round" />
<line x1="191.7" y1="276.8" x2="208.6" y2="276.8" stroke="#666" stroke-width="1.3" stroke-linecap="butt"/>
<line x1="197.4" y1="276.8" x2="197.4" y2="293" stroke="#666" stroke-width="1.3" stroke-linecap="butt"/>
<line x1="260.9" y1="369.5" x2="162.9" y2="369.5" stroke="#000" stroke-width="1.3" stroke-linecap="butt"/>
<line x1="263.9" y1="353.6" x2="230.1" y2="353.6" stroke="#000" stroke-width="2.4" stroke-linecap="butt"/>
<line x1="230.1" y1="383.3" x2="230.1" y2="353.6" stroke="#000" stroke-width="2.4" stroke-linecap="butt"/>
<line x1="208.5" y1="377.8" x2="170.6" y2="377.8" stroke="#000" stroke-width="2.5" stroke-linecap="butt"/>
<line x1="230.1" y1="361.6" x2="170.6" y2="361.6" stroke="#000" stroke-width="2.5" stroke-linecap="butt"/>
<line x1="170.6" y1="377.8" x2="170.6" y2="361.6" stroke="#000" stroke-width="1.5" stroke-linecap="butt"/>
<line x1="213.2" y1="387.8" x2="213.2" y2="356.3" stroke="#000" stroke-width="2.4" stroke-linecap="butt"/>
<line x1="208.5" y1="387.8" x2="208.5" y2="356.3" stroke="#000" stroke-width="2.4" stroke-linecap="butt"/>
<rect x="230.1" y="354.7" width="18.1" height="30.3" rx="3" fill="none" stroke="#666" stroke-width="1"/>
<line x1="247.4" y1="375.8" x2="238.9" y2="375.8" stroke="#666" stroke-width="1.15" stroke-linecap="butt"/>
<line x1="247.4" y1="369.5" x2="238.9" y2="369.5" stroke="#666" stroke-width="1.15" stroke-linecap="butt"/>
<line x1="247.4" y1="363.3" x2="238.9" y2="363.3" stroke="#666" stroke-width="1.15" stroke-linecap="butt"/>
<path d="M238.9,377.3 L234.9,369.5 L238.9,361.8 Z" stroke="#666" stroke-width="1.15" fill="none" stroke-linejoin="round" />
<line x1="230.1" y1="377.8" x2="213.2" y2="377.8" stroke="#666" stroke-width="1.3" stroke-linecap="butt"/>
<line x1="224.4" y1="377.8" x2="224.4" y2="361.6" stroke="#666" stroke-width="1.3" stroke-linecap="butt"/>
<line x1="210.9" y1="185" x2="210.9" y2="468" stroke="#000" stroke-width="1.3" stroke-dasharray="26 3 4 3" stroke-linecap="butt"/>
<line x1="68" y1="327.3" x2="353" y2="327.3" stroke="#000" stroke-width="1.3" stroke-dasharray="26 3 4 3" stroke-linecap="butt"/>
<line x1="265.69" y1="458.31" x2="156.11" y2="196.29" stroke="#000" stroke-width="1.3" stroke-dasharray="24 3 4 3" stroke-linecap="butt"/>
<line x1="79.89" y1="382.09" x2="341.91" y2="272.51" stroke="#000" stroke-width="1.3" stroke-dasharray="24 3 4 3" stroke-linecap="butt"/>
<line x1="105.8" y1="156" x2="105.8" y2="222.5" stroke="#000" stroke-width="1.7" stroke-linecap="butt"/>
<line x1="315.8" y1="156" x2="315.8" y2="222.5" stroke="#000" stroke-width="1.7" stroke-linecap="butt"/>
<line x1="105.8" y1="160.6" x2="315.8" y2="160.6" stroke="#000" stroke-width="1.5" stroke-linecap="butt"/>
<polygon points="106.2,160.6 116,159 116,162.2" fill="#000"/>
<polygon points="315.4,160.6 305.6,162.2 305.6,159" fill="#000"/>
<rect x="167.6" y="136.8" width="17.6" height="17.4" fill="none" stroke="#000" stroke-width="1.4"/>
<g font-family="'Liberation Serif', serif" font-size="33.7" font-weight="normal" fill="#000" stroke="#000" stroke-width="0.55" text-anchor="middle">
<text transform="translate(194.35 154.4) scale(0.6 1)">6</text>
<text transform="translate(205.85 154.4) scale(0.6 1)">9</text>
<text transform="translate(214.4 154.4) scale(0.6 1)">.</text>
<text transform="translate(226.35 154.4) scale(0.6 1)">6</text>
</g>
<line x1="330" y1="191.1" x2="423.3" y2="191.1" stroke="#000" stroke-width="1.55" stroke-linecap="butt"/>
<line x1="330" y1="462.6" x2="423.3" y2="462.6" stroke="#000" stroke-width="1.55" stroke-linecap="butt"/>
<line x1="418.6" y1="191.1" x2="418.6" y2="462.6" stroke="#000" stroke-width="1.55" stroke-linecap="butt"/>
<polygon points="418.6,191.6 420.2,201.4 417,201.4" fill="#000"/>
<polygon points="418.6,462.1 417,452.3 420.2,452.3" fill="#000"/>
<rect x="391.9" y="343.3" width="19" height="18.2" fill="none" stroke="#000" stroke-width="1.4"/>
<g transform="translate(412.2 339.6) rotate(-90)">
<g font-family="'Liberation Serif', serif" font-size="33.7" font-weight="normal" fill="#000" stroke="#000" stroke-width="0.55" text-anchor="middle">
<text transform="translate(5.75 0) scale(0.6 1)">9</text>
<text transform="translate(17.25 0) scale(0.6 1)">0</text>
</g>
</g>
<path d="M95,401 L131.3,503 H218.8" stroke="#000" stroke-width="1.5" fill="none" stroke-linejoin="miter" />
<g font-family="'Liberation Serif', serif" font-size="33.7" font-weight="normal" fill="#000" stroke="#000" stroke-width="0.55" text-anchor="middle">
<text transform="translate(141.55 494.8) scale(0.6 1)">4</text>
<text transform="translate(152.4 494.8) scale(0.85 1)">-</text>
<text transform="translate(163.2 494.8) scale(0.36 1)">M</text>
<text transform="translate(174.65 494.8) scale(0.6 1)">5</text>
</g>
<g font-family="'Liberation Serif', serif" font-size="33.7" font-weight="normal" fill="#000" stroke="#000" stroke-width="0.55" text-anchor="middle">
<text transform="translate(204.8 494.8) scale(0.6 1)">1</text>
<text transform="translate(215.65 494.8) scale(0.6 1)">2</text>
</g>
<g transform="translate(178.7 468.7)" fill="none" stroke="#000" stroke-linecap="round" stroke-linejoin="round">
<path d="M2,1.4 L5.6,5 M0.9,9.2 L4.8,12.2 M0.9,26.6 L5.8,16.2" stroke-width="2.1"/>
<path d="M6.3,8.4 L6.9,4.2 H18.4 M18.6,2.6 L17,7.6" stroke-width="1.5"/>
<path d="M10.3,5.9 L7.9,11.1 M13.9,5.9 L17.4,10.3" stroke-width="1.8"/>
<path d="M6,14.3 H19" stroke-width="1.3"/>
<path d="M12.3,10.7 V27.8" stroke-width="2.2"/>
<path d="M11.9,15 L6,23.8 M12.7,15 L18.6,24" stroke-width="1.8"/>
</g>
<g font-family="'Liberation Serif', serif" font-size="45" font-weight="normal" fill="#000" stroke="#000" stroke-width="0.7" text-anchor="middle">
<text transform="translate(88.05 75) scale(0.82 1)">I</text>
<text transform="translate(102.3 75) scale(0.6 1)">n</text>
<text transform="translate(115.9 75) scale(0.6 1)">p</text>
<text transform="translate(129.5 75) scale(0.6 1)">u</text>
<text transform="translate(142.81 75) scale(0.75 1)">t</text>
</g>
</svg>
</body>
</html>
